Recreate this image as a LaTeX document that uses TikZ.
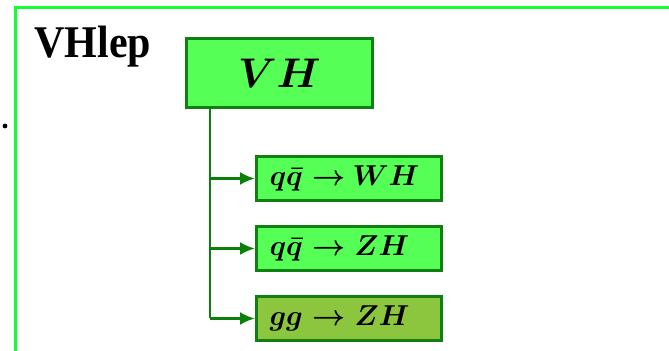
\documentclass[tikz,border=0pt]{standalone}
\usepackage{fontspec}
\usepackage{amsmath}
\newfontfamily\labelfont{Liberation Serif}
\usetikzlibrary{arrows.meta,calc}
\definecolor{framegreen}{HTML}{11FF33}
\definecolor{boxfill}{HTML}{55FF55}
\definecolor{boxdraw}{HTML}{108010}
\definecolor{olivefill}{HTML}{8CC63F}
\definecolor{arrowgreen}{HTML}{0A800A}
\tikzset{
  procbox/.style={draw=boxdraw, fill=boxfill, line width=1.5pt,
    inner xsep=6.5pt, inner ysep=0pt, text width=79.5pt, align=left,
    minimum height=22pt, font=\fontsize{15.4}{17}\selectfont\boldmath},
  topbox/.style={draw=boxdraw, fill=boxfill, line width=1.5pt, inner sep=0pt,
    minimum width=93pt, minimum height=34.5pt,
    font=\fontsize{19.5}{22}\selectfont\boldmath},
  branch/.style={draw=arrowgreen, line width=1.3pt},
  arr/.style={branch, -{Latex[length=7.5pt,width=6.5pt]}},
}
\begin{document}
\begin{tikzpicture}[x=0.5pt,y=-0.5pt]
\useasboundingbox (0,0) rectangle (669,351);
\clip (0,0) rectangle (669,351);
\draw[framegreen, line width=1.3pt] (15.5,7.5) rectangle (700,400);
\node[circle, fill=black, inner sep=0pt, minimum size=2.4pt] (dot) at (5,126) {};
\node[anchor=base west, inner sep=0pt, yscale=1.08, transform shape,
  font=\labelfont\bfseries\fontsize{21}{24}\selectfont] (title) at (34,58) {VHlep};
\node[topbox] (vh) at (279.5,73) {$VH$};
\node[procbox] (b1) at (349,178.5) {\rlap{$q\bar q \to\mkern-1mu WH$}};
\node[procbox] (b2) at (349,248.5) {\rlap{$q\bar q \to ZH$}};
\node[procbox, fill=olivefill] (b3) at (349,318.5) {\rlap{$gg \to ZH$}};
\coordinate (trunk) at ($(vh.south west)+(12.5pt,0)$);
\draw[branch] (trunk) -- (trunk |- b3);
\draw[arr] (trunk |- b1) -- (b1.west);
\draw[arr] (trunk |- b2) -- (b2.west);
\draw[arr] (trunk |- b3) -- (b3.west);
\end{tikzpicture}
\end{document}
